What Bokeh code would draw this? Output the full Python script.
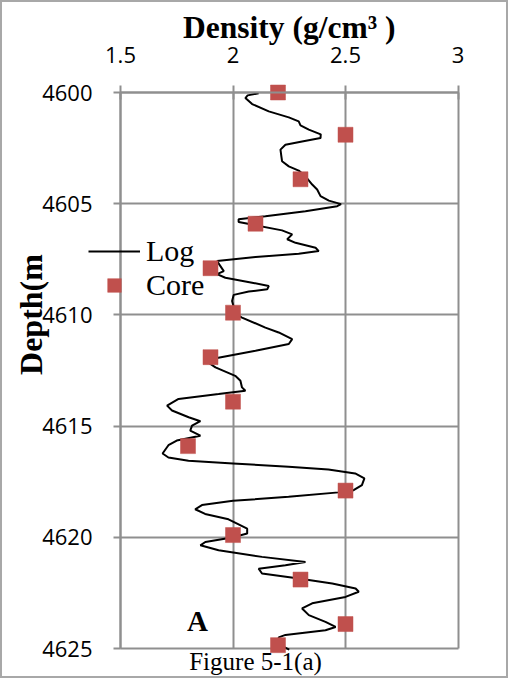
import math
from bokeh.plotting import figure
from bokeh.models import Range1d, FixedTicker, Label, Legend, LegendItem
from bokeh.embed import file_html
from bokeh.resources import INLINE

# ---- data ----
log_density = [2.114, 2.065, 2.055, 2.085, 2.159, 2.248, 2.292, 2.300, 2.337, 2.390,
               2.389, 2.307, 2.233, 2.211, 2.215, 2.218, 2.248, 2.292, 2.322, 2.352,
               2.374, 2.389, 2.426, 2.480, 2.463, 2.322, 2.144, 2.025, 2.025, 2.090,
               2.218, 2.263, 2.241, 2.278, 2.367, 2.381, 2.292, 2.100, 1.929, 1.959,
               1.929, 1.966, 2.085, 2.159, 2.152, 2.070, 2.003, 1.996, 2.003, 2.010,
               2.040, 2.144, 2.203, 2.263, 2.248, 2.100, 1.929, 1.890, 1.922, 2.010,
               2.033, 2.040, 2.055, 1.936, 1.758, 1.707, 1.729, 1.803, 1.855, 1.818,
               1.810, 1.855, 1.750, 1.713, 1.687, 1.713, 1.802, 2.000, 2.247, 2.424,
               2.543, 2.584, 2.573, 2.536, 2.469, 2.247, 2.000, 1.862, 1.832, 1.876,
               1.980, 2.063,
               2.063, 1.996, 1.877, 1.855, 1.936, 2.129, 2.322, 2.233, 2.114, 2.129,
               2.292, 2.441, 2.545, 2.559, 2.500, 2.352, 2.307, 2.337, 2.411, 2.456,
               2.411, 2.233, 2.203, 2.210, 2.250]
log_depth = [4600.03, 4600.13, 4600.25, 4600.52, 4600.85, 4601.12, 4601.30, 4601.48, 4601.67, 4601.88,
             4602.05, 4602.20, 4602.35, 4602.57, 4602.87, 4603.09, 4603.32, 4603.51, 4603.77, 4604.14,
             4604.36, 4604.66, 4604.86, 4605.02, 4605.11, 4605.34, 4605.56, 4605.70, 4605.82, 4605.95,
             4606.20, 4606.38, 4606.60, 4606.76, 4606.98, 4607.13, 4607.25, 4607.40, 4607.58, 4608.03,
             4608.17, 4608.33, 4608.55, 4608.70, 4608.85, 4608.95, 4609.10, 4609.37, 4609.64, 4609.95,
             4610.12, 4610.57, 4610.79, 4611.09, 4611.31, 4611.61, 4611.94, 4612.14, 4612.36, 4612.74,
             4612.96, 4613.26, 4613.41, 4613.56, 4613.78, 4614.08, 4614.30, 4614.60, 4614.78, 4614.98,
             4615.20, 4615.43, 4615.65, 4615.86, 4616.23, 4616.41, 4616.56, 4616.68, 4616.83, 4616.95,
             4617.13, 4617.35, 4617.65, 4617.88, 4617.98, 4618.18, 4618.36, 4618.55, 4618.74, 4618.95,
             4619.19, 4619.61,
             4619.83, 4620.01, 4620.21, 4620.36, 4620.58, 4620.88, 4621.11, 4621.26, 4621.41, 4621.63,
             4621.85, 4622.08, 4622.30, 4622.45, 4622.68, 4622.97, 4623.20, 4623.50, 4623.80, 4624.03,
             4624.18, 4624.39, 4624.50, 4624.85, 4625.05]

core_density = [2.2, 2.5, 2.3, 2.1, 1.9, 2.0, 1.9, 2.0, 1.8, 2.5, 2.0, 2.3, 2.5, 2.2]
core_depth = [4600.0, 4601.9, 4603.9, 4605.9, 4607.9, 4609.9, 4611.9, 4613.9,
              4615.9, 4617.9, 4619.9, 4621.9, 4623.9, 4624.85]

density_ticks = [1.5, 2, 2.5, 3]
density_labels = ["1.5", "2", "2.5", "3"]
depth_ticks = [4600, 4605, 4610, 4615, 4620, 4625]
depth_labels = ["4600", "4605", "4610", "4615", "4620", "4625"]

title_text = "Density (g/cm\u00b3 )"
ylabel_text = "Depth(m"
panel_text = "A"
caption_text = "Figure 5-1(a)"
series_names = ["Log", "Core"]

# ---- layout (canvas pixels) ----
GRID = "#8f8f8f"
RED = "#C0504D"
SERIF = "Liberation Serif"
SANS = "Open Sans"

W, H = 508, 678
X0, X1 = density_ticks[0], density_ticks[-1]
D0, D1 = depth_ticks[0], depth_ticks[-1]
PX_LEFT, PX_RIGHT = 118.0, 455.5      # where X0 / X1 fall on the canvas
PY_TOP, PY_BOTTOM = 90.0, 646.0       # where D0 / D1 fall on the canvas
kx = (PX_RIGHT - PX_LEFT) / (X1 - X0)
ky = (PY_BOTTOM - PY_TOP) / (D1 - D0)
x_range = Range1d(X0 - PX_LEFT / kx, X1 + (W - PX_RIGHT) / kx)
y_range = Range1d(D1 + (H - PY_BOTTOM) / ky, D0 - PY_TOP / ky)

p = figure(width=W, height=H, output_backend="svg", toolbar_location=None,
           x_range=x_range, y_range=y_range, x_axis_location="above", title=None,
           min_border=0, min_border_left=0, min_border_right=0,
           min_border_top=0, min_border_bottom=0)
p.styles = {"border": "2px solid #a8a8a8"}
p.outline_line_color = None
p.background_fill_color = "white"
p.border_fill_color = "white"

xa, ya = p.xaxis[0], p.yaxis[0]
for ax in (xa, ya):
    ax.axis_line_color = GRID
    ax.axis_line_width = 2
    ax.major_tick_line_color = GRID
    ax.major_tick_line_width = 2
    ax.minor_tick_line_color = None
    ax.major_label_text_font = SANS
    ax.major_label_text_font_size = "22px"
    ax.major_label_text_color = "black"

xa.fixed_location = D0
xa.bounds = (X0, X1)
xa.ticker = FixedTicker(ticks=density_ticks)
xa.major_label_overrides = dict(zip(density_ticks, density_labels))
xa.major_tick_out = 7
xa.major_tick_in = 7
xa.major_label_standoff = 23

ya.fixed_location = X0
ya.bounds = (D0, D1)
ya.ticker = FixedTicker(ticks=depth_ticks)
ya.major_label_overrides = dict(zip(depth_ticks, depth_labels))
ya.major_tick_out = 7
ya.major_tick_in = 0
ya.major_label_standoff = 21

xg, yg = p.xgrid[0], p.ygrid[0]
xg.ticker = FixedTicker(ticks=density_ticks)
yg.ticker = FixedTicker(ticks=depth_ticks)
if "cross_bounds" in xg.properties():
    xg.cross_bounds = (D0, D1)
    yg.cross_bounds = (X0, X1)
else:
    xg.bounds = (D0, D1)
    yg.bounds = (X0, X1)
for g in (xg, yg):
    g.grid_line_color = GRID
    g.grid_line_width = 2

log_r = p.line(log_density, log_depth, line_color="black", line_width=2)
core_r = p.scatter(core_density, core_depth, marker="square", size=15,
                   fill_color=RED, line_color=RED, line_width=0.5)

def sy(canvas_y):
    return H - canvas_y

legend = Legend(items=[LegendItem(label=series_names[0], renderers=[log_r]),
                       LegendItem(label=series_names[1], renderers=[core_r])],
                location=(86, sy(300.4)), padding=0, margin=0, spacing=0,
                glyph_width=52, glyph_height=34, label_height=34,
                label_standoff=6, label_text_font=SERIF, label_text_font_size="30px",
                label_text_color="black",
                border_line_color=None, background_fill_alpha=0)
p.add_layout(legend, "center")

p.add_layout(Label(x=(PX_LEFT + PX_RIGHT) / 2, y=sy(25), x_units="screen", y_units="screen",
                   text=title_text, text_font=SERIF, text_font_style="bold", text_color="black",
                   text_font_size="31.5px", text_align="center", text_baseline="middle"))
p.add_layout(Label(x=28, y=sy(312), x_units="screen", y_units="screen", text=ylabel_text,
                   angle=math.pi / 2, text_font=SERIF, text_font_style="bold", text_color="black",
                   text_font_size="32px", text_align="center", text_baseline="middle"))
p.add_layout(Label(x=195, y=sy(618), x_units="screen", y_units="screen", text=panel_text,
                   text_font=SERIF, text_font_style="bold", text_font_size="29px",
                   text_color="black", text_align="center", text_baseline="middle"))
p.add_layout(Label(x=253, y=sy(659), x_units="screen", y_units="screen", text=caption_text,
                   text_font=SERIF, text_font_size="25px", text_color="black",
                   text_align="center", text_baseline="middle"))

open("out.html", "w").write(file_html(p, INLINE))
